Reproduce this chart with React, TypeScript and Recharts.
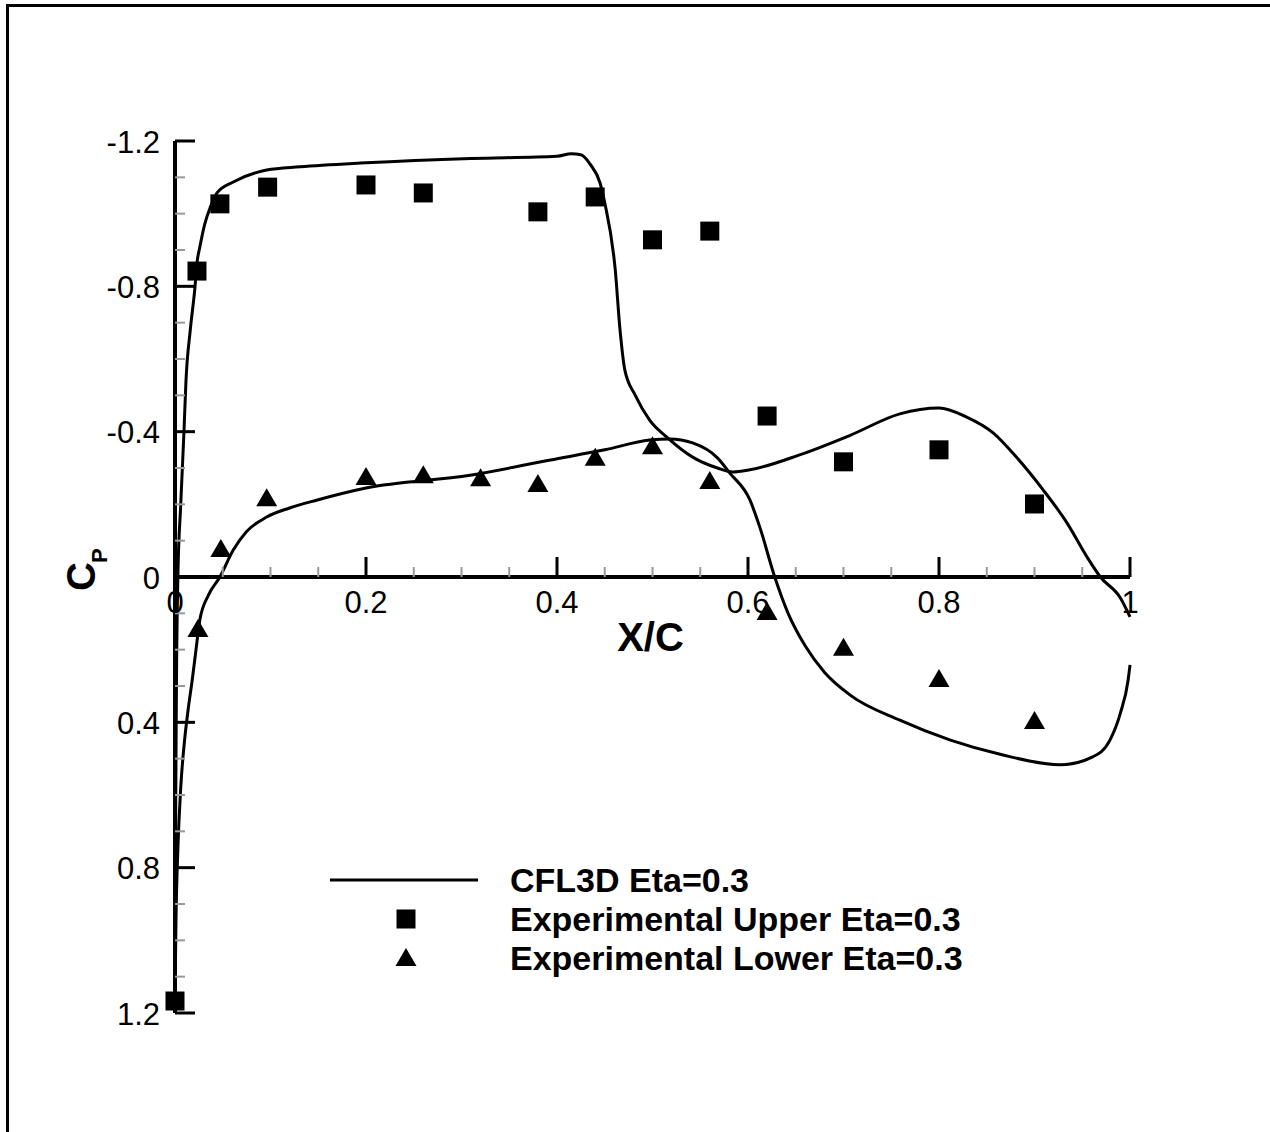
import React from 'react';
import { ComposedChart, XAxis, YAxis, Line, Scatter, ReferenceLine, Legend } from 'recharts';

// CFD (CFL3D) upper surface
const cfdUpperX = [0, 0.0003, 0.0008, 0.0015, 0.003, 0.006, 0.0094, 0.0115, 0.016, 0.021, 0.023, 0.026, 0.031, 0.037, 0.044, 0.061, 0.096, 0.131, 0.2, 0.31, 0.4, 0.415, 0.425, 0.435, 0.445, 0.45, 0.461, 0.466, 0.471, 0.482, 0.497, 0.515, 0.542, 0.568, 0.584, 0.602, 0.654, 0.707, 0.759, 0.8, 0.829, 0.857, 0.881, 0.909, 0.934, 0.955, 0.969, 0.99, 1.0];
const cfdUpperCp = [1.16, 0.9, 0.6, 0.3, 0.0, -0.2, -0.4, -0.54, -0.68, -0.8, -0.864, -0.908, -0.97, -1.018, -1.057, -1.087, -1.12, -1.129, -1.14, -1.152, -1.158, -1.165, -1.162, -1.135, -1.085, -1.03, -0.845, -0.68, -0.57, -0.5, -0.432, -0.385, -0.33, -0.3, -0.289, -0.295, -0.336, -0.39, -0.449, -0.465, -0.44, -0.396, -0.33, -0.24, -0.149, -0.055, 0, 0.058, 0.11];

// CFD (CFL3D) lower surface
const cfdLowerX = [0, 0.001, 0.003, 0.006, 0.01, 0.014, 0.018, 0.022, 0.026, 0.035, 0.047, 0.061, 0.075, 0.096, 0.12, 0.149, 0.2, 0.309, 0.393, 0.45, 0.497, 0.518, 0.542, 0.568, 0.581, 0.602, 0.612, 0.628, 0.642, 0.66, 0.68, 0.707, 0.759, 0.812, 0.864, 0.927, 0.961, 0.979, 0.99, 0.998, 1.0];
const cfdLowerCp = [1.16, 0.95, 0.75, 0.58, 0.45, 0.36, 0.284, 0.2, 0.118, 0.05, 0, -0.074, -0.125, -0.165, -0.19, -0.212, -0.245, -0.28, -0.322, -0.35, -0.377, -0.38, -0.369, -0.328, -0.286, -0.212, -0.14, 0, 0.1, 0.19, 0.262, 0.325, 0.394, 0.449, 0.488, 0.517, 0.495, 0.449, 0.374, 0.284, 0.242];

// Experimental upper
const expUpperX = [0, 0.023, 0.047, 0.097, 0.2, 0.26, 0.38, 0.44, 0.5, 0.56, 0.62, 0.7, 0.8, 0.9];
const expUpperCp = [1.167, -0.842, -1.027, -1.073, -1.079, -1.057, -1.005, -1.046, -0.928, -0.952, -0.443, -0.317, -0.35, -0.201];

// Experimental lower
const expLowerX = [0.024, 0.048, 0.096, 0.2, 0.26, 0.32, 0.38, 0.44, 0.5, 0.56, 0.62, 0.7, 0.8, 0.9];
const expLowerCp = [0.143, -0.077, -0.217, -0.275, -0.28, -0.272, -0.256, -0.328, -0.36, -0.264, 0.096, 0.195, 0.281, 0.396];

// Axis ticks
const xMajorTicks = [0, 0.2, 0.4, 0.6, 0.8, 1];
const xTickLabels = ['0', '0.2', '0.4', '0.6', '0.8', '1'];
const xMinorTicks = [0.05, 0.1, 0.15, 0.25, 0.3, 0.35, 0.45, 0.5, 0.55, 0.65, 0.7, 0.75, 0.85, 0.9, 0.95];
const yMajorTicks = [-1.2, -0.8, -0.4, 0, 0.4, 0.8, 1.2];
const yTickLabels = ['-1.2', '-0.8', '-0.4', '0', '0.4', '0.8', '1.2'];
const yMinorTicks = [-1.1, -1.0, -0.9, -0.7, -0.6, -0.5, -0.3, -0.2, -0.1, 0.1, 0.2, 0.3, 0.5, 0.6, 0.7, 0.9, 1.0, 1.1];

const legendItems = [
  { label: 'CFL3D Eta=0.3', kind: 'line' },
  { label: 'Experimental Upper Eta=0.3', kind: 'square' },
  { label: 'Experimental Lower Eta=0.3', kind: 'triangle' },
];

const zip = (xs: number[], ys: number[]) => xs.map((x, i) => ({ x, y: ys[i] }));

const upperCurve = zip(cfdUpperX, cfdUpperCp);
const lowerCurve = zip(cfdLowerX, cfdLowerCp);
const upperPts = zip(expUpperX, expUpperCp);
const lowerPts = zip(expLowerX, expLowerCp);

const xMajorData = xMajorTicks.map((x, i) => ({ x, y: 0, label: xTickLabels[i] }));
const xMinorData = xMinorTicks.map((x) => ({ x, y: 0 }));
const yMajorData = yMajorTicks.map((y, i) => ({ x: 0, y, label: yTickLabels[i] }));
const yMinorData = yMinorTicks.map((y) => ({ x: 0, y }));
const titleAnchor = [{ x: 0.5, y: 0 }];
const yTitleAnchor = [{ x: 0, y: 0 }];

const FONT = '"Liberation Sans", Arial, Helvetica, sans-serif';

const SquareShape = (p: any) => (
  <rect x={p.cx - 9.5} y={p.cy - 9.5} width={19} height={19} fill="#000" />
);
const TriangleShape = (p: any) => (
  <polygon points={`${p.cx},${p.cy - 10} ${p.cx + 10.5},${p.cy + 8} ${p.cx - 10.5},${p.cy + 8}`} fill="#000" />
);
const XMajorTick = (p: any) => (
  <g>
    <line x1={p.cx} y1={p.cy} x2={p.cx} y2={p.cy - 20} stroke="#000" strokeWidth={3} />
    <text x={p.cx} y={p.cy + 25} textAnchor="middle" dominantBaseline="central" fontFamily={FONT} fontSize={31} fill="#000">
      {p.payload.label}
    </text>
  </g>
);
const XMinorTick = (p: any) => (
  <line x1={p.cx} y1={p.cy} x2={p.cx} y2={p.cy - 10} stroke="#999" strokeWidth={2} />
);
const YMajorTick = (p: any) => (
  <g>
    <line x1={p.cx} y1={p.cy} x2={p.cx + 20} y2={p.cy} stroke="#000" strokeWidth={3} />
    <text x={p.cx - 15} y={p.cy + 1} textAnchor="end" dominantBaseline="central" fontFamily={FONT} fontSize={31} fill="#000">
      {p.payload.label}
    </text>
  </g>
);
const YMinorTick = (p: any) => (
  <line x1={p.cx} y1={p.cy} x2={p.cx + 10} y2={p.cy} stroke="#999" strokeWidth={2} />
);
const XTitle = (p: any) => (
  <text x={p.cx - 2} y={p.cy + 60} textAnchor="middle" dominantBaseline="central" fontFamily={FONT} fontWeight="bold" fontSize={40} fill="#000">
    X/C
  </text>
);
const YTitle = (p: any) => (
  <text transform={`translate(${p.cx - 80},${p.cy + 14}) rotate(-90)`} textAnchor="start" fontFamily={FONT} fontWeight="bold" fontSize={40} fill="#000">
    C<tspan fontSize={22} dy={12} dx={-1}>P</tspan>
  </text>
);

const LegendContent = () => (
  <svg width={700} height={120}>
    {legendItems.map((it, i) => {
      const cy = 20 + i * 39;
      return (
        <g key={it.label}>
          {it.kind === 'line' && <line x1={10} y1={cy} x2={158} y2={cy} stroke="#000" strokeWidth={3} />}
          {it.kind === 'square' && <rect x={86 - 9.5} y={cy - 9.5} width={19} height={19} fill="#000" />}
          {it.kind === 'triangle' && (
            <polygon points={`86,${cy - 10} ${96.5},${cy + 8} ${75.5},${cy + 8}`} fill="#000" />
          )}
          <text x={190} y={cy} dominantBaseline="central" fontFamily={FONT} fontWeight="bold" fontSize={34} fill="#000">
            {it.label}
          </text>
        </g>
      );
    })}
  </svg>
);

export default function App() {
  return (
    <div style={{ position: 'absolute', left: 0, top: 0, width: 1270, height: 1132, overflow: 'hidden', background: '#fff' }}>
      <div style={{ position: 'absolute', left: 6, top: 4, width: 1300, height: 1200, borderTop: '3px solid #000', borderLeft: '3px solid #000' }} />
      <div style={{ position: 'absolute', left: 0, top: 0 }}>
        <ComposedChart width={1270} height={1132} margin={{ top: 141, left: 175, right: 140, bottom: 119 }}>
          <XAxis dataKey="x" type="number" domain={[0, 1]} hide />
          <YAxis dataKey="y" type="number" domain={[-1.2, 1.2]} reversed hide />
          <ReferenceLine y={0} stroke="#000" strokeWidth={4} ifOverflow="visible" />
          <ReferenceLine x={0} stroke="#000" strokeWidth={4} ifOverflow="visible" />
          <Scatter data={xMinorData} shape={XMinorTick} isAnimationActive={false} />
          <Scatter data={yMinorData} shape={YMinorTick} isAnimationActive={false} />
          <Scatter data={xMajorData} shape={XMajorTick} isAnimationActive={false} />
          <Scatter data={yMajorData} shape={YMajorTick} isAnimationActive={false} />
          <Line data={upperCurve} dataKey="y" type="monotone" stroke="#000" strokeWidth={3} dot={false} activeDot={false} isAnimationActive={false} />
          <Line data={lowerCurve} dataKey="y" type="monotone" stroke="#000" strokeWidth={3} dot={false} activeDot={false} isAnimationActive={false} />
          <Scatter data={upperPts} shape={SquareShape} isAnimationActive={false} />
          <Scatter data={lowerPts} shape={TriangleShape} isAnimationActive={false} />
          <Scatter data={titleAnchor} shape={XTitle} isAnimationActive={false} />
          <Scatter data={yTitleAnchor} shape={YTitle} isAnimationActive={false} />
          <Legend
            layout="vertical"
            align="center"
            verticalAlign="middle"
            content={LegendContent}
            wrapperStyle={{ position: 'absolute', left: 320, top: 860, width: 700, height: 120 }}
          />
        </ComposedChart>
      </div>
    </div>
  );
}
